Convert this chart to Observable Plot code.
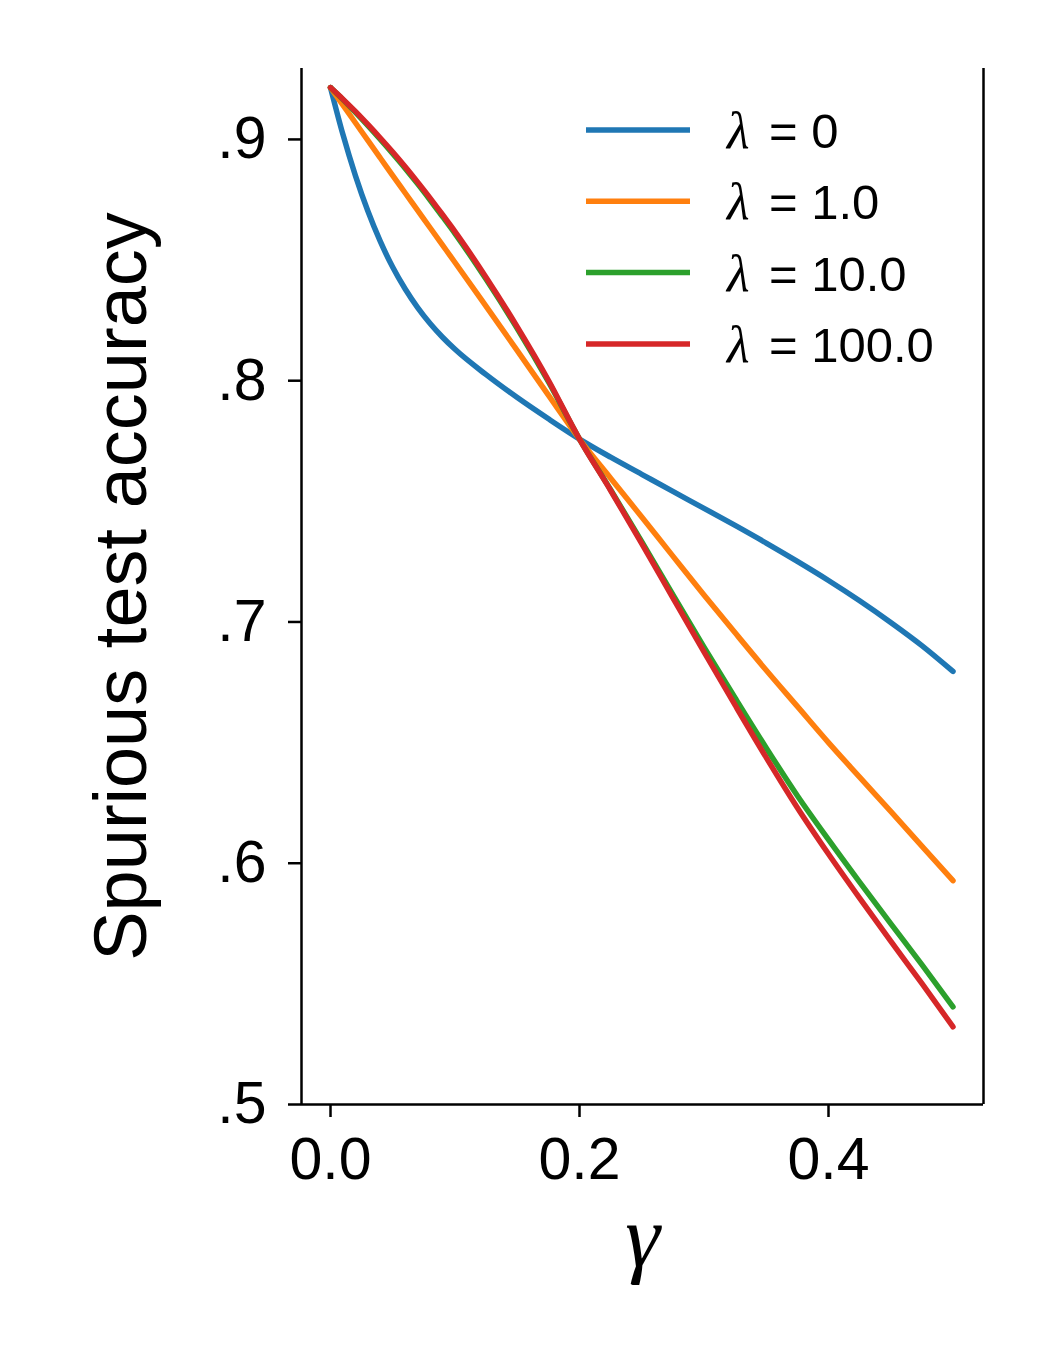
<!DOCTYPE html>
<html><head><meta charset="utf-8">
<script src="https://cdn.jsdelivr.net/npm/d3@7"></script>
<script src="https://cdn.jsdelivr.net/npm/@observablehq/plot@0.6"></script>
<style>body{margin:0;background:#fff}</style>
</head><body><div id="chart"></div>
<script>
// ---- data ----
const gamma = [0, 0.01, 0.02, 0.03, 0.04, 0.05, 0.06, 0.07, 0.08, 0.09, 0.10, 0.125, 0.15, 0.175, 0.2,
  0.225, 0.25, 0.275, 0.3, 0.325, 0.35, 0.375, 0.4, 0.425, 0.45, 0.475, 0.5];
const acc_lambda0 = [0.9215, 0.9020, 0.8850, 0.8703, 0.8577, 0.8470, 0.8380, 0.8303, 0.8237, 0.8180, 0.8130,
  0.8025, 0.7930, 0.7842, 0.7758, 0.7683, 0.7612, 0.7541, 0.7471, 0.7400, 0.7327, 0.7251, 0.7172, 0.7088,
  0.6998, 0.6902, 0.6795];
const acc_lambda1 = [0.9215, 0.9142, 0.9069, 0.8996, 0.8923, 0.8850, 0.8778, 0.8706, 0.8634, 0.8562, 0.8490,
  0.8308, 0.8125, 0.7940, 0.7758, 0.7596, 0.7435, 0.7273, 0.7112, 0.6955, 0.6800, 0.6650, 0.6500, 0.6357,
  0.6215, 0.6071, 0.5928];
const acc_lambda10 = [0.9215, 0.9165, 0.9112, 0.9057, 0.9000, 0.8941, 0.8880, 0.8816, 0.8749, 0.8680, 0.8610,
  0.8420, 0.8216, 0.7996, 0.7758, 0.7548, 0.7333, 0.7113, 0.6896, 0.6685, 0.6478, 0.6280, 0.6098, 0.5922,
  0.5750, 0.5580, 0.5405];
const acc_lambda100 = [0.9215, 0.9167, 0.9116, 0.9062, 0.9006, 0.8948, 0.8887, 0.8823, 0.8757, 0.8688, 0.8618,
  0.8428, 0.8223, 0.8002, 0.7758, 0.7545, 0.7325, 0.7100, 0.6876, 0.6655, 0.6438, 0.6230, 0.6038, 0.5855,
  0.5677, 0.5502, 0.5322];
const seriesLabels = ["0", "1.0", "10.0", "100.0"];
const seriesColors = ["#1f77b4", "#ff7f0e", "#2ca02c", "#d62728"];
const xTicks = [0.0, 0.2, 0.4];
const yTicks = [0.5, 0.6, 0.7, 0.8, 0.9];
const xDomain = [-0.0233, 0.5245];
const yDomain = [0.5, 0.9294];
const yLabel = "Spurious test accuracy";
const xLabel = "γ";

const allSeries = [acc_lambda0, acc_lambda1, acc_lambda10, acc_lambda100];
const tables = allSeries.map(vals => gamma.map((g, i) => ({g, v: vals[i]})));

const sans = "'Liberation Sans', Arial, Helvetica, sans-serif";
const serif = "'Liberation Serif', 'DejaVu Serif', serif";

function legendMark(index, scales, values, dimensions) {
  const g = d3.create("svg:g");
  const left = dimensions.marginLeft, top = dimensions.marginTop;
  seriesLabels.forEach((lab, i) => {
    const y = top + 62 + i * 71.3;
    g.append("line").attr("x1", left + 285).attr("x2", left + 389)
      .attr("y1", y).attr("y2", y)
      .attr("stroke", seriesColors[i]).attr("stroke-width", 5.5);
    g.append("text").attr("x", left + 426).attr("y", y + 18)
      .attr("text-anchor", "start")
      .attr("font-size", 52).attr("font-family", serif).attr("font-style", "italic")
      .attr("fill", "black").text("λ");
    g.append("text").attr("x", left + 468).attr("y", y + 18)
      .attr("text-anchor", "start")
      .attr("font-size", 49).attr("font-family", sans)
      .attr("fill", "black").text("= " + lab);
  });
  return g.node();
}

const chart = Plot.plot({
  width: 1050, height: 1350,
  marginLeft: 301, marginRight: 67, marginTop: 68, marginBottom: 246,
  style: {fontFamily: sans, background: "white", color: "black"},
  x: {domain: xDomain},
  y: {domain: yDomain},
  marks: [
    Plot.axisX({ticks: xTicks, tickFormat: d => d.toFixed(1), tickSize: 13, tickPadding: 20,
      fontSize: 59, strokeWidth: 2.5, label: null}),
    Plot.axisY({ticks: yTicks, tickFormat: d => d.toFixed(1).replace(/^0/, ""), tickSize: 13, tickPadding: 22,
      fontSize: 59, strokeWidth: 2.5, label: null}),
    Plot.ruleY([yDomain[0]], {strokeWidth: 2.5}),
    Plot.ruleX([xDomain[0], xDomain[1]], {strokeWidth: 2.5}),
    ...tables.map((t, i) => Plot.line(t, {x: "g", y: "v", stroke: seriesColors[i], strokeWidth: 5.5,
      curve: "monotone-x"})),
    Plot.text([yLabel], {frameAnchor: "left", rotate: -90, dx: -179, fontSize: 74, lineAnchor: "middle",
      textAnchor: "middle"}),
    Plot.text([xLabel], {frameAnchor: "bottom", dy: 133, fontSize: 88, lineAnchor: "middle",
      fontStyle: "italic", fontFamily: serif}),
    legendMark
  ]
});
document.getElementById("chart").append(chart);
</script>
</body></html>
